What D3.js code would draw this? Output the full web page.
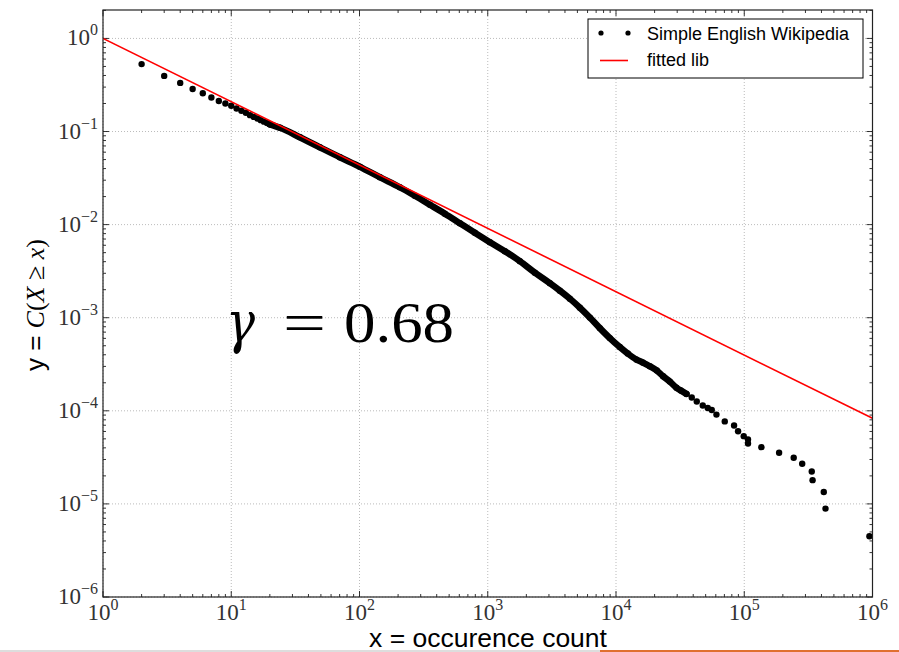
<!DOCTYPE html>
<html><head><meta charset="utf-8">
<script src="https://cdn.jsdelivr.net/npm/d3@7/dist/d3.min.js"></script>
<style>body{margin:0;background:#fff}svg{display:block}</style>
</head><body>
<svg id="c" width="899" height="652"></svg>
<script>
// ---- data ----
const sparseHeadX = [2,3,4,5,6,7,8,9,10,11,12,13,14,15,16,17,18,19,20];
const sparseHeadY = [0.53,0.396,0.333,0.286,0.258,0.232,0.213,0.200,0.189,0.177,0.167,0.159,0.150,0.1436,0.138,0.1325,0.1277,0.1233,0.1194];
const denseX = [20,24,34.3,49.1,70.3,100.7,144,206,270,354,463,606,793,1039,1359,1779,2329,3048,3648,4364,5224,6250,7477,8950,10700,12360,14450,16180,18340,20800,23290,26270,29610,32000,35440];
const denseY = [0.1194,0.1096,0.0867,0.0677,0.0529,0.0418,0.0323,0.0252,0.0204,0.01635,0.0131,0.01035,0.00818,0.00648,0.00518,0.00405,0.00305,0.00235,0.001953,0.001603,0.001283,0.001003,0.000773,0.000604,0.000484,0.000412,0.000355,0.00033,0.000301,0.000271,0.000235,0.000206,0.000177,0.000165,0.000152];
const tailX = [38970,42640,47490,51950,55820,60700,70500,83300,89500,99100,107000,107000,136000,187000,243000,283000,336000,341000,417000,430000,946000];
const tailY = [0.000139,0.000126,0.000114,0.000107,0.000102,9.1e-5,7.7e-5,6.95e-5,6.04e-5,5.34e-5,4.92e-5,4.46e-5,4.07e-5,3.54e-5,3.13e-5,2.70e-5,2.23e-5,1.80e-5,1.34e-5,8.9e-6,4.5e-6];
const fitX = [1, 1e6];
const fitY = [1, 8.3e-5];
const xTickExp = [0,1,2,3,4,5,6];
const yTickExp = [0,-1,-2,-3,-4,-5,-6];
const seriesLabel = "Simple English Wikipedia";
const fitLabel = "fitted lib";
const gammaText = "0.68";

// ---- layout ----
const L = 103, R = 872.5, T = 10, B = 597;
const svg = d3.select("#c");
const x = d3.scaleLog().domain([1, 1e6]).range([L, R]);
const y = d3.scaleLog().domain([1e-6, 2.02]).range([B, T]);

svg.append("defs").append("clipPath").attr("id","clip")
  .append("rect").attr("x",L).attr("y",T).attr("width",R-L).attr("height",B-T);

// grid
const g = svg.append("g");
xTickExp.forEach(e=>{
  g.append("line").attr("x1",x(10**e)).attr("x2",x(10**e)).attr("y1",T).attr("y2",B)
   .attr("stroke","#aaa").attr("stroke-width",0.8).attr("stroke-dasharray","1,2");
});
yTickExp.forEach(e=>{
  g.append("line").attr("x1",L).attr("x2",R).attr("y1",y(10**e)).attr("y2",y(10**e))
   .attr("stroke","#aaa").attr("stroke-width",0.8).attr("stroke-dasharray","1,2");
});

// ticks (inside, all four sides)
const tk = svg.append("g").attr("stroke","#000").attr("stroke-width",0.8);
for (let e=0;e<6;e++) for (let m=1;m<10;m++){
  const v = m*10**e, px = x(v), len = m===1?6:3;
  tk.append("line").attr("x1",px).attr("x2",px).attr("y1",B).attr("y2",B-len);
  tk.append("line").attr("x1",px).attr("x2",px).attr("y1",T).attr("y2",T+len);
}
for (let e=-6;e<1;e++) for (let m=1;m<10;m++){
  const v = m*10**e; if (v>2.02) continue;
  const py = y(v), len = m===1?6:3;
  tk.append("line").attr("x1",L).attr("x2",L+len).attr("y1",py).attr("y2",py);
  tk.append("line").attr("x1",R).attr("x2",R-len).attr("y1",py).attr("y2",py);
}

// data
const plot = svg.append("g").attr("clip-path","url(#clip)");
const denseData = denseX.map((d,i)=>[d,denseY[i]]);
plot.append("path").datum(denseData)
  .attr("d", d3.line().x(d=>x(d[0])).y(d=>y(d[1])).curve(d3.curveMonotoneX))
  .attr("fill","none").attr("stroke","#000").attr("stroke-width",6.5)
  .attr("stroke-linecap","round").attr("stroke-linejoin","round");
const dots = sparseHeadX.map((d,i)=>[d,sparseHeadY[i]])
  .concat(denseData).concat(tailX.map((d,i)=>[d,tailY[i]]));
plot.selectAll("circle.p").data(dots).join("circle")
  .attr("cx",d=>x(d[0])).attr("cy",d=>y(d[1])).attr("r",3.2).attr("fill","#000");
plot.append("path").datum(fitX.map((d,i)=>[d,fitY[i]]))
  .attr("d", d3.line().x(d=>x(d[0])).y(d=>y(d[1])))
  .attr("fill","none").attr("stroke","#ff0000").attr("stroke-width",1.6);

// frame
svg.append("rect").attr("x",L).attr("y",T).attr("width",R-L).attr("height",B-T)
  .attr("fill","none").attr("stroke","#222").attr("stroke-width",1.2);

// tick labels
const serif = "'Liberation Serif','DejaVu Serif',serif";
xTickExp.forEach(e=>{
  const t = svg.append("text").attr("x",x(10**e)).attr("y",620).attr("text-anchor","middle")
    .attr("font-family",serif).attr("font-size",23).attr("fill","#333");
  t.append("tspan").text("10");
  t.append("tspan").attr("dy",-10).attr("font-size",16).text(String(e));
});
yTickExp.forEach(e=>{
  const t = svg.append("text").attr("x",98).attr("y",y(10**e)+7).attr("text-anchor","end")
    .attr("font-family",serif).attr("font-size",23).attr("fill","#333");
  t.append("tspan").text("10");
  t.append("tspan").attr("dy",-10).attr("font-size",16).text(e===0?"0":"\u2212"+(-e));
});

// axis labels
const sans = "'Liberation Sans',Arial,sans-serif";
svg.append("text").attr("x",488).attr("y",647).attr("text-anchor","middle")
  .attr("font-family",sans).attr("font-size",26.5).attr("fill","#000").text("x = occurence count");
const yl = svg.append("text").attr("transform","translate(44,305) rotate(-90)")
  .attr("text-anchor","middle").attr("font-size",26).attr("fill","#000");
yl.append("tspan").attr("font-family",sans).text("y = ");
yl.append("tspan").attr("font-family",serif).attr("font-style","italic").text("C");
yl.append("tspan").attr("font-family",serif).text("(");
yl.append("tspan").attr("font-family",serif).attr("font-style","italic").text("X");
yl.append("tspan").attr("font-family",serif).text(" \u2265 ");
yl.append("tspan").attr("font-family",serif).attr("font-style","italic").text("x");
yl.append("tspan").attr("font-family",serif).text(")");

// gamma annotation
const ga = svg.append("g").attr("font-family",serif).attr("fill","#000");
ga.append("text").attr("x",226).attr("y",342).attr("font-size",58)
  .attr("font-family","'DejaVu Serif',serif").attr("font-style","italic")
  .attr("textLength",29).attr("lengthAdjust","spacingAndGlyphs").text("\u03B3");
ga.append("text").attr("x",283).attr("y",342).attr("font-size",58)
  .attr("textLength",43).attr("lengthAdjust","spacingAndGlyphs").text("=");
ga.append("text").attr("x",344).attr("y",342).attr("font-size",57)
  .attr("textLength",110).attr("lengthAdjust","spacingAndGlyphs").text(gammaText);

// legend
const lg = svg.append("g");
lg.append("rect").attr("x",588).attr("y",19).attr("width",275).attr("height",59)
  .attr("fill","#fff").attr("stroke","#000").attr("stroke-width",1);
[601,628].forEach(cx=>lg.append("circle").attr("cx",cx).attr("cy",33).attr("r",2.6).attr("fill","#000"));
lg.append("line").attr("x1",600).attr("x2",628).attr("y1",60.5).attr("y2",60.5)
  .attr("stroke","#ff0000").attr("stroke-width",1.6);
lg.append("text").attr("x",647).attr("y",40).attr("font-family",sans).attr("font-size",18).text(seriesLabel);
lg.append("text").attr("x",647).attr("y",66).attr("font-family",sans).attr("font-size",18).text(fitLabel);

// bottom edge strip
svg.append("line").attr("x1",0).attr("x2",600).attr("y1",651).attr("y2",651).attr("stroke","#ddd").attr("stroke-width",2);
svg.append("line").attr("x1",600).attr("x2",899).attr("y1",651).attr("y2",651).attr("stroke","#e07030").attr("stroke-width",2);
</script>
</body></html>
